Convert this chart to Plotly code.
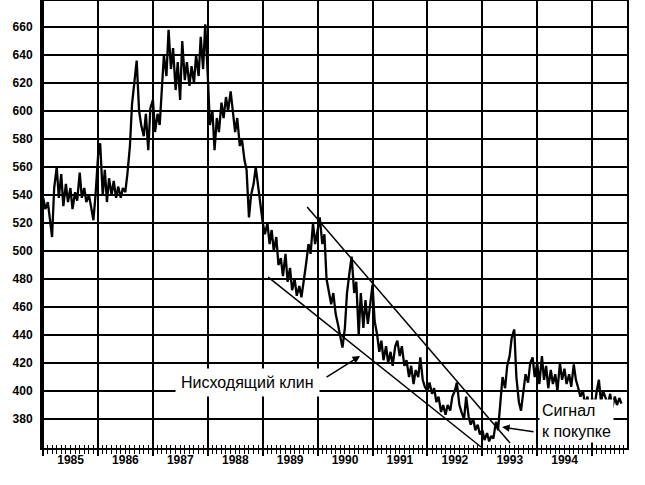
import pandas as pd
import plotly.graph_objects as go

# Semi-monthly readings (1st and 15th of each month)
price_1985 = [538, 530, 535, 520, 510, 545, 560, 538, 555, 532, 548, 535,
              545, 530, 542, 536, 556, 538, 545, 535, 540, 532, 522, 540]
price_1986 = [568, 577, 540, 558, 535, 552, 540, 550, 538, 546, 538, 545,
              542, 555, 575, 605, 622, 636, 600, 590, 582, 598, 572, 602]
price_1987 = [608, 585, 598, 590, 615, 640, 625, 658, 630, 645, 615, 635,
              608, 650, 622, 635, 618, 632, 620, 640, 625, 653, 630, 662]
price_1988 = [625, 590, 600, 572, 595, 585, 606, 595, 610, 600, 614, 598,
              585, 595, 575, 580, 565, 558, 524, 540, 548, 560, 545, 534]
price_1989 = [520, 512, 520, 505, 515, 500, 510, 490, 495, 482, 498, 478,
              488, 472, 480, 468, 475, 467, 478, 490, 505, 498, 520, 505]
price_1990 = [515, 524, 505, 512, 480, 472, 462, 470, 455, 448, 438, 431,
              445, 470, 485, 496, 470, 478, 440, 470, 445, 465, 448, 462]
price_1991 = [476, 450, 440, 428, 436, 422, 432, 420, 428, 418, 432, 436,
              425, 432, 418, 422, 410, 418, 405, 415, 410, 424, 408, 403]
price_1992 = [400, 406, 398, 402, 392, 396, 385, 390, 383, 390, 386, 396,
              400, 406, 390, 385, 380, 396, 382, 376, 380, 372, 376, 369]
price_1993 = [372, 365, 370, 364, 368, 366, 378, 372, 396, 410, 402, 418,
              425, 438, 444, 410, 392, 386, 400, 412, 406, 420, 424, 410]
price_1994 = [420, 405, 425, 408, 418, 402, 415, 405, 412, 400, 420, 408,
              416, 405, 412, 403, 419, 408, 402, 396, 400, 390, 396, 386]
price_1995 = [395, 388, 400, 408, 392, 400, 395, 390, 398, 388, 396, 390,
              395, 391]

price = (price_1985 + price_1986 + price_1987 + price_1988 + price_1989 +
         price_1990 + price_1991 + price_1992 + price_1993 + price_1994 +
         price_1995)
dates = pd.date_range("1985-01-01", periods=len(price), freq="SMS")

# Wedge boundary lines (endpoints)
wedge_upper_dates = ["1989-10-23", "1993-07-04"]
wedge_upper_values = [531.4, 362.9]
wedge_lower_dates = ["1989-02-06", "1992-12-23"]
wedge_lower_values = [481.4, 360.0]

year_starts = [f"{y}-01-01" for y in range(1985, 1996)]
year_mid = [f"{y}-07-02" for y in range(1985, 1995)]
year_labels = [str(y) for y in range(1985, 1995)]
y_ticks = list(range(380, 661, 20))

x_range = ["1984-12-24", "1995-08-21"]
y_range = [359.3, 678.6]

tick_font = dict(family="Liberation Sans", size=12, color="black", weight="bold")

fig = go.Figure()
fig.add_trace(go.Scatter(x=dates, y=price, mode="lines",
                         line=dict(color="black", width=2.3),
                         showlegend=False, hoverinfo="skip"))
fig.add_trace(go.Scatter(x=wedge_upper_dates, y=wedge_upper_values, mode="lines",
                         line=dict(color="black", width=1.5),
                         showlegend=False, hoverinfo="skip"))
fig.add_trace(go.Scatter(x=wedge_lower_dates, y=wedge_lower_values, mode="lines",
                         line=dict(color="black", width=1.5),
                         showlegend=False, hoverinfo="skip"))
fig.add_trace(go.Scatter(x=[dates[0]], y=[None], xaxis="x2", mode="lines",
                         showlegend=False, hoverinfo="skip"))

fig.update_layout(
    width=645, height=485,
    margin=dict(l=42, r=18, t=1, b=37, autoexpand=False),
    paper_bgcolor="white", plot_bgcolor="white",
    showlegend=False,
    xaxis=dict(
        type="date", range=x_range, automargin=False,
        tickmode="array", tickvals=year_starts, showticklabels=False,
        ticks="outside", ticklen=6, tickwidth=2, tickcolor="black",
        showgrid=True, gridcolor="black", gridwidth=2.4,
        showline=True, linecolor="black", linewidth=2, mirror=True,
        minor=dict(dtick="M1", tick0="1985-01-01", ticks="outside",
                   ticklen=4, tickwidth=1, tickcolor="black", showgrid=False),
    ),
    xaxis2=dict(
        type="date", range=x_range, overlaying="x", anchor="y", side="bottom",
        automargin=False,
        tickmode="array", tickvals=year_mid, ticktext=year_labels,
        ticks="", ticklabelstandoff=3,
        showgrid=False, showline=False, zeroline=False,
        tickfont=tick_font,
        minor=dict(dtick="M1", tick0="1985-01-01", ticks="inside",
                   ticklen=3, tickwidth=1, tickcolor="black", showgrid=False),
    ),
    yaxis=dict(
        range=y_range, tickmode="array", tickvals=y_ticks, automargin=False,
        ticks="", ticklabelstandoff=5,
        showgrid=True, gridcolor="black", gridwidth=2.2,
        showline=True, linecolor="black", linewidth=2, mirror=True,
        zeroline=False, tickfont=tick_font,
    ),
)

ann_font = dict(family="Liberation Sans", size=16, color="black")
fig.add_annotation(x="1988-09-24", y=406.4, text="Нисходящий клин",
                   showarrow=False, bgcolor="white", borderpad=5, font=ann_font)
fig.add_annotation(x="1990-10-10", y=425.0, text="", showarrow=True,
                   ax=-35, ay=22, arrowhead=2, arrowsize=1, arrowwidth=1.5,
                   arrowcolor="black")
fig.add_annotation(x="1994-09-20", y=378.6, text="Сигнал<br>к покупке",
                   align="left", showarrow=False, bgcolor="white", borderpad=2,
                   font=ann_font)
fig.add_annotation(x="1993-05-12", y=374.3, text="", showarrow=True,
                   ax=33, ay=5, arrowhead=2, arrowsize=1, arrowwidth=1.5,
                   arrowcolor="black")

fig.write_html("out.html", config={"displayModeBar": False},
               post_script="document.body.style.margin='0';document.body.style.overflow='hidden';")
